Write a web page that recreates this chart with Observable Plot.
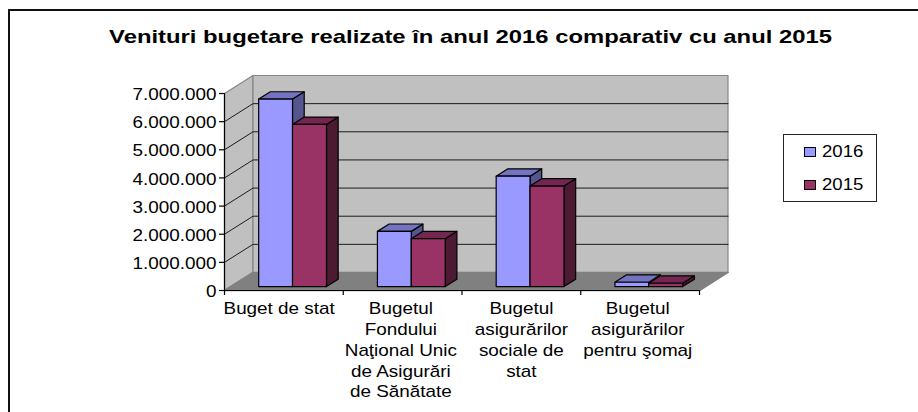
<!DOCTYPE html>
<html><head><meta charset="utf-8">
<script src="https://cdn.jsdelivr.net/npm/d3@7"></script>
<script src="https://cdn.jsdelivr.net/npm/@observablehq/plot@0.6"></script>
<style>
html,body{margin:0;background:#fff;}
#wrap{position:relative;width:918px;height:412px;overflow:hidden;font-family:"Liberation Sans",Arial,sans-serif;}
#border{position:absolute;left:8px;top:9px;width:930px;height:420px;border:2px solid #111;box-sizing:border-box;}
#legend{position:absolute;left:783px;top:134px;width:94px;height:68px;border:1.5px solid #222;box-sizing:border-box;background:#fff;}
.sw{position:absolute;left:20px;width:12px;height:10px;border:1px solid #000;box-sizing:border-box;}
.lb{position:absolute;left:37.5px;font-size:16px;line-height:16px;transform:scaleX(1.16);transform-origin:0 50%;color:#000;}
</style></head><body>
<div id="wrap"><div id="chart"></div><div id="border"></div>
<div id="legend">
<div class="sw" style="top:11.5px;background:#9999FF"></div><div class="lb" style="top:8.5px">2016</div>
<div class="sw" style="top:45px;background:#993366"></div><div class="lb" style="top:42px">2015</div>
</div></div>
<script>
const title = "Venituri bugetare realizate în anul 2016 comparativ cu anul 2015";
const categories = ["Buget de stat","Bugetul\nFondului\nNaţional Unic\nde Asigurări\nde Sănătate","Bugetul\nasigurărilor\nsociale de\nstat","Bugetul\nasigurărilor\npentru şomaj"];
const labelCenters = [0.46,1.485,2.5,3.48];
const values2016 = [6660000,1960000,3920000,153000];
const values2015 = [5760000,1700000,3570000,117000];
const yTicks = [0,1000000,2000000,3000000,4000000,5000000,6000000,7000000];
const colors2016 = {front:"#9999FF",top:"#7373BF",side:"#55558F"};
const colors2015 = {front:"#993366",top:"#732650",side:"#4D1A33"};

// oblique depth: depth 1 shifts by these amounts in data units
const kx = 0.24, ky = 640000, yMax = 7000000, nCat = categories.length;
const P = (c,v,d=0) => ({x:c+kx*d, y:v+ky*d});
const poly = (id,fill,pts) => pts.map(p=>({...p,id,fill}));

const side = poly("side","#C0C0C0",[P(0,0,0),P(0,0,1),P(0,yMax,1),P(0,yMax,0)]);
const back = poly("back","#C0C0C0",[P(0,0,1),P(nCat,0,1),P(nCat,yMax,1),P(0,yMax,1)]);
const floor = poly("floor","#808080",[P(0,0,0),P(nCat,0,0),P(nCat,0,1),P(0,0,1)]);
const grid = yTicks.filter(t=>t>0&&t<yMax).flatMap(t=>poly("g"+t,"none",[P(0,t,0),P(0,t,1),P(nCat,t,1)]));

const d0=0.22,d1=0.63;
const slots=[[0.235,0.52],[0.52,0.806]];
const faces=[];
categories.forEach((_,i)=>{
  [[values2016,colors2016,0],[values2015,colors2015,1]].forEach(([vals,col,s])=>{
    const a=i+slots[s][0],b=i+slots[s][1],v=vals[i],id=`${i}-${s}-`;
    faces.push(...poly(id+"side",col.side,[P(b,0,d0),P(b,0,d1),P(b,v,d1),P(b,v,d0)]));
    faces.push(...poly(id+"top",col.top,[P(a,v,d0),P(b,v,d0),P(b,v,d1),P(a,v,d1)]));
    faces.push(...poly(id+"front",col.front,[P(a,0,d0),P(b,0,d0),P(b,v,d0),P(a,v,d0)]));
  });
});
const dotted = d => d3.format(",")(d).replace(/,/g,".");
const lineHeight = 1.3;
const chart = Plot.plot({
  width:918,height:412,marginLeft:224,marginRight:190.5,marginTop:75,marginBottom:122,
  style:{fontFamily:"'Liberation Sans',Arial,sans-serif",background:"transparent",color:"#000",overflow:"visible"},
  x:{domain:[0,nCat+kx],axis:null},
  y:{domain:[0,yMax+ky],axis:null},
  color:{type:"identity"},
  marks:[
    Plot.line(side,{x:"x",y:"y",z:"id",fill:"fill",stroke:"#868686",strokeWidth:1.2,curve:"linear-closed"}),
    Plot.line(back,{x:"x",y:"y",z:"id",fill:"fill",stroke:"#868686",strokeWidth:1.2,curve:"linear-closed"}),
    Plot.line(floor,{x:"x",y:"y",z:"id",fill:"fill",stroke:"#808080",curve:"linear-closed"}),
    Plot.line(grid,{x:"x",y:"y",z:"id",stroke:"#1c1c1c",strokeWidth:1}),
    Plot.ruleX([0],{y1:0,y2:yMax,stroke:"#000",strokeWidth:1.2}),
    Plot.ruleY([0],{x1:0,x2:nCat,stroke:"#000",strokeWidth:1.2}),
    Plot.axisY({ticks:yTicks,tickSize:5,tickFormat:()=>"",stroke:"#000",strokeWidth:1.2,label:null}),
    Plot.axisY({ticks:yTicks,tickSize:0,tickPadding:8,tickFormat:dotted,fontSize:16,fill:"#000",dy:1.5,label:null}),
    Plot.axisX({ticks:d3.range(nCat+1),tickSize:5,tickFormat:()=>"",stroke:"#000",strokeWidth:1.2,label:null}),
    Plot.line(faces,{x:"x",y:"y",z:"id",fill:"fill",stroke:"#000",strokeWidth:1.2,curve:"linear-closed"}),
    Plot.text(categories,{x:(d,i)=>labelCenters[i],y:()=>0,dy:9,lineAnchor:"top",lineHeight,fontSize:16,fill:"#000",textAnchor:"middle",text:d=>d}),
    Plot.text([title],{frameAnchor:"top",x:()=>2.0716,dy:-45,fontSize:18,fontWeight:"bold",fill:"#000",text:d=>d})
  ]
});
document.getElementById("chart").appendChild(chart);
// Arial-like text in the reference is horizontally stretched
chart.querySelectorAll("text").forEach(t=>{
  const s=t.textContent.startsWith("Venituri")?1.324:1.18;
  t.setAttribute("transform",(t.getAttribute("transform")||"")+` scale(${s},1)`);
});
</script></body></html>
